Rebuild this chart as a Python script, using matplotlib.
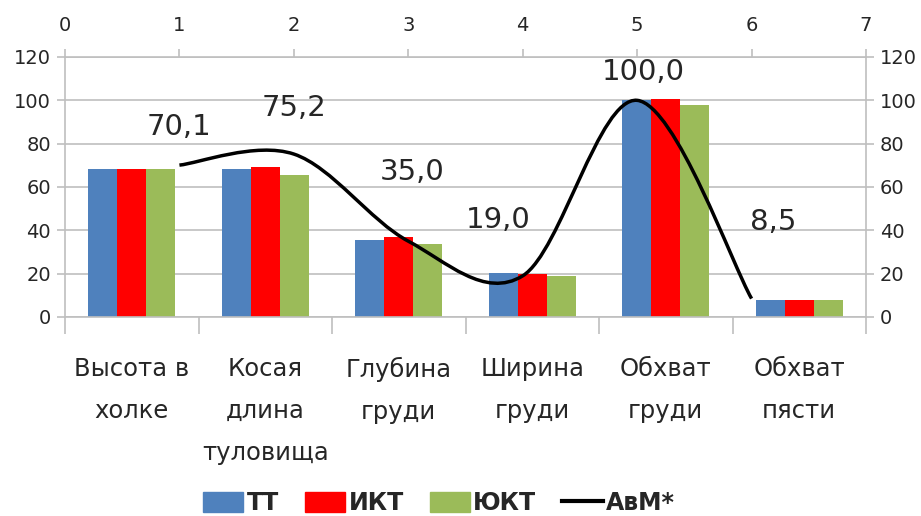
import numpy as np
import matplotlib
matplotlib.use("Agg")
import matplotlib.pyplot as plt
from matplotlib.path import Path
from matplotlib.patches import PathPatch, Patch
from matplotlib.lines import Line2D

plt.rcParams['font.family'] = ['DejaVu Sans']

# Data
categories = ["Высота в\nхолке", "Косая\nдлина\nтуловища", "Глубина\nгруди",
              "Ширина\nгруди", "Обхват\nгруди", "Обхват\nпясти"]
tt = [68.3, 68.3, 35.5, 20.3, 100.0, 7.7]
ikt = [68.3, 69.1, 36.7, 19.7, 100.8, 7.7]
yukt = [68.3, 65.6, 33.6, 18.8, 97.7, 7.7]

avm_x = [1, 2, 3, 4, 5, 6]
avm_y = [70.1, 75.2, 35.0, 19.0, 100.0, 8.5]
avm_text = ["70,1", "75,2", "35,0", "19,0", "100,0", "8,5"]
# label positions (secondary axes coords), placed by hand as in the source
lbl_x = [1.0, 2.0, 3.03, 3.79, 5.05, 6.19]
lbl_y = [87.7, 96.5, 67.0, 44.7, 113.0, 43.9]

blue = '#4F81BD'
red = '#FF0000'
green = '#9BBB59'
grid_c = '#BFBFBF'
txt_c = '#262626'

fig = plt.figure(figsize=(9.21, 5.16), dpi=100)
pos = [65 / 921, 1 - 317 / 516, 801 / 921, 260 / 516]
ax = fig.add_axes(pos)

x = np.arange(len(categories))
w = 0.217
ax.bar(x - w, tt, w, color=blue, zorder=2)
ax.bar(x, ikt, w, color=red, zorder=2)
ax.bar(x + w, yukt, w, color=green, zorder=2)

ax.set_xlim(-0.5, 5.5)
ax.set_ylim(0, 120)
ax.set_yticks(range(0, 121, 20))
ax.yaxis.grid(True, color=grid_c, lw=1.2, zorder=0)
ax.set_xticks(np.arange(-0.5, 6, 1))
ax.set_xticklabels([])
ax.set_xticks(x, minor=True)
ax.set_xticklabels(categories, minor=True, fontsize=17.5, color=txt_c, linespacing=1.95)
ax.tick_params(axis='x', which='minor', length=0, pad=29)
ax.tick_params(axis='x', which='major', length=12, color=grid_c, width=1.2)
ax.tick_params(axis='y', length=6, color=grid_c, width=1.2, labelsize=14, labelcolor=txt_c, pad=4)
for s in ['top', 'right']:
    ax.spines[s].set_visible(False)
for s in ['left', 'bottom']:
    ax.spines[s].set_color(grid_c)
    ax.spines[s].set_linewidth(1.2)

# secondary axes: top x 0..7, right y 0..120
ax2 = fig.add_axes(pos, facecolor='none')
ax2.set_xlim(0, 7)
ax2.set_ylim(0, 120)
ax2.xaxis.tick_top()
ax2.yaxis.tick_right()
ax2.set_xticks(range(0, 8))
ax2.set_yticks(range(0, 121, 20))
ax2.tick_params(axis='x', length=6, color=grid_c, width=1.2, labelsize=14, labelcolor=txt_c, pad=10)
ax2.tick_params(axis='y', length=6, color=grid_c, width=1.2, labelsize=14, labelcolor=txt_c, pad=4)
for s in ['left', 'bottom']:
    ax2.spines[s].set_visible(False)
for s in ['top', 'right']:
    ax2.spines[s].set_color(grid_c)
    ax2.spines[s].set_linewidth(1.2)

# smoothed line like Excel (cubic Bezier through points)
P = np.column_stack([avm_x, avm_y]).astype(float)
n = len(P)
verts = [P[0]]
codes = [Path.MOVETO]
for i in range(n - 1):
    p0 = P[i - 1] if i > 0 else P[i]
    p3 = P[i + 2] if i + 2 < n else P[i + 1]
    c1 = P[i] + (P[i + 1] - p0) / 6
    c2 = P[i + 1] - (p3 - P[i]) / 6
    verts += [c1, c2, P[i + 1]]
    codes += [Path.CURVE4] * 3
ax2.add_patch(PathPatch(Path(verts, codes), fill=False, edgecolor='black', lw=2.5, zorder=3,
                        capstyle='butt'))

for tx, ty, t in zip(lbl_x, lbl_y, avm_text):
    ax2.text(tx, ty, t, ha='center', va='center', fontsize=21, color=txt_c)

handles = [Patch(color=blue, label='ТТ'), Patch(color=red, label='ИКТ'),
           Patch(color=green, label='ЮКТ'), Line2D([], [], color='black', lw=3, label='АвМ*')]
leg = fig.legend(handles=handles, loc='center', bbox_to_anchor=(439 / 921, 1 - 503 / 516), ncol=4,
                 frameon=False, prop={'size': 17, 'weight': 'bold'}, handlelength=1.7,
                 handleheight=0.9, handletextpad=0.15, columnspacing=1.1, borderpad=0.1)
for t in leg.get_texts():
    t.set_color(txt_c)

fig.savefig('out.png', dpi=100)
